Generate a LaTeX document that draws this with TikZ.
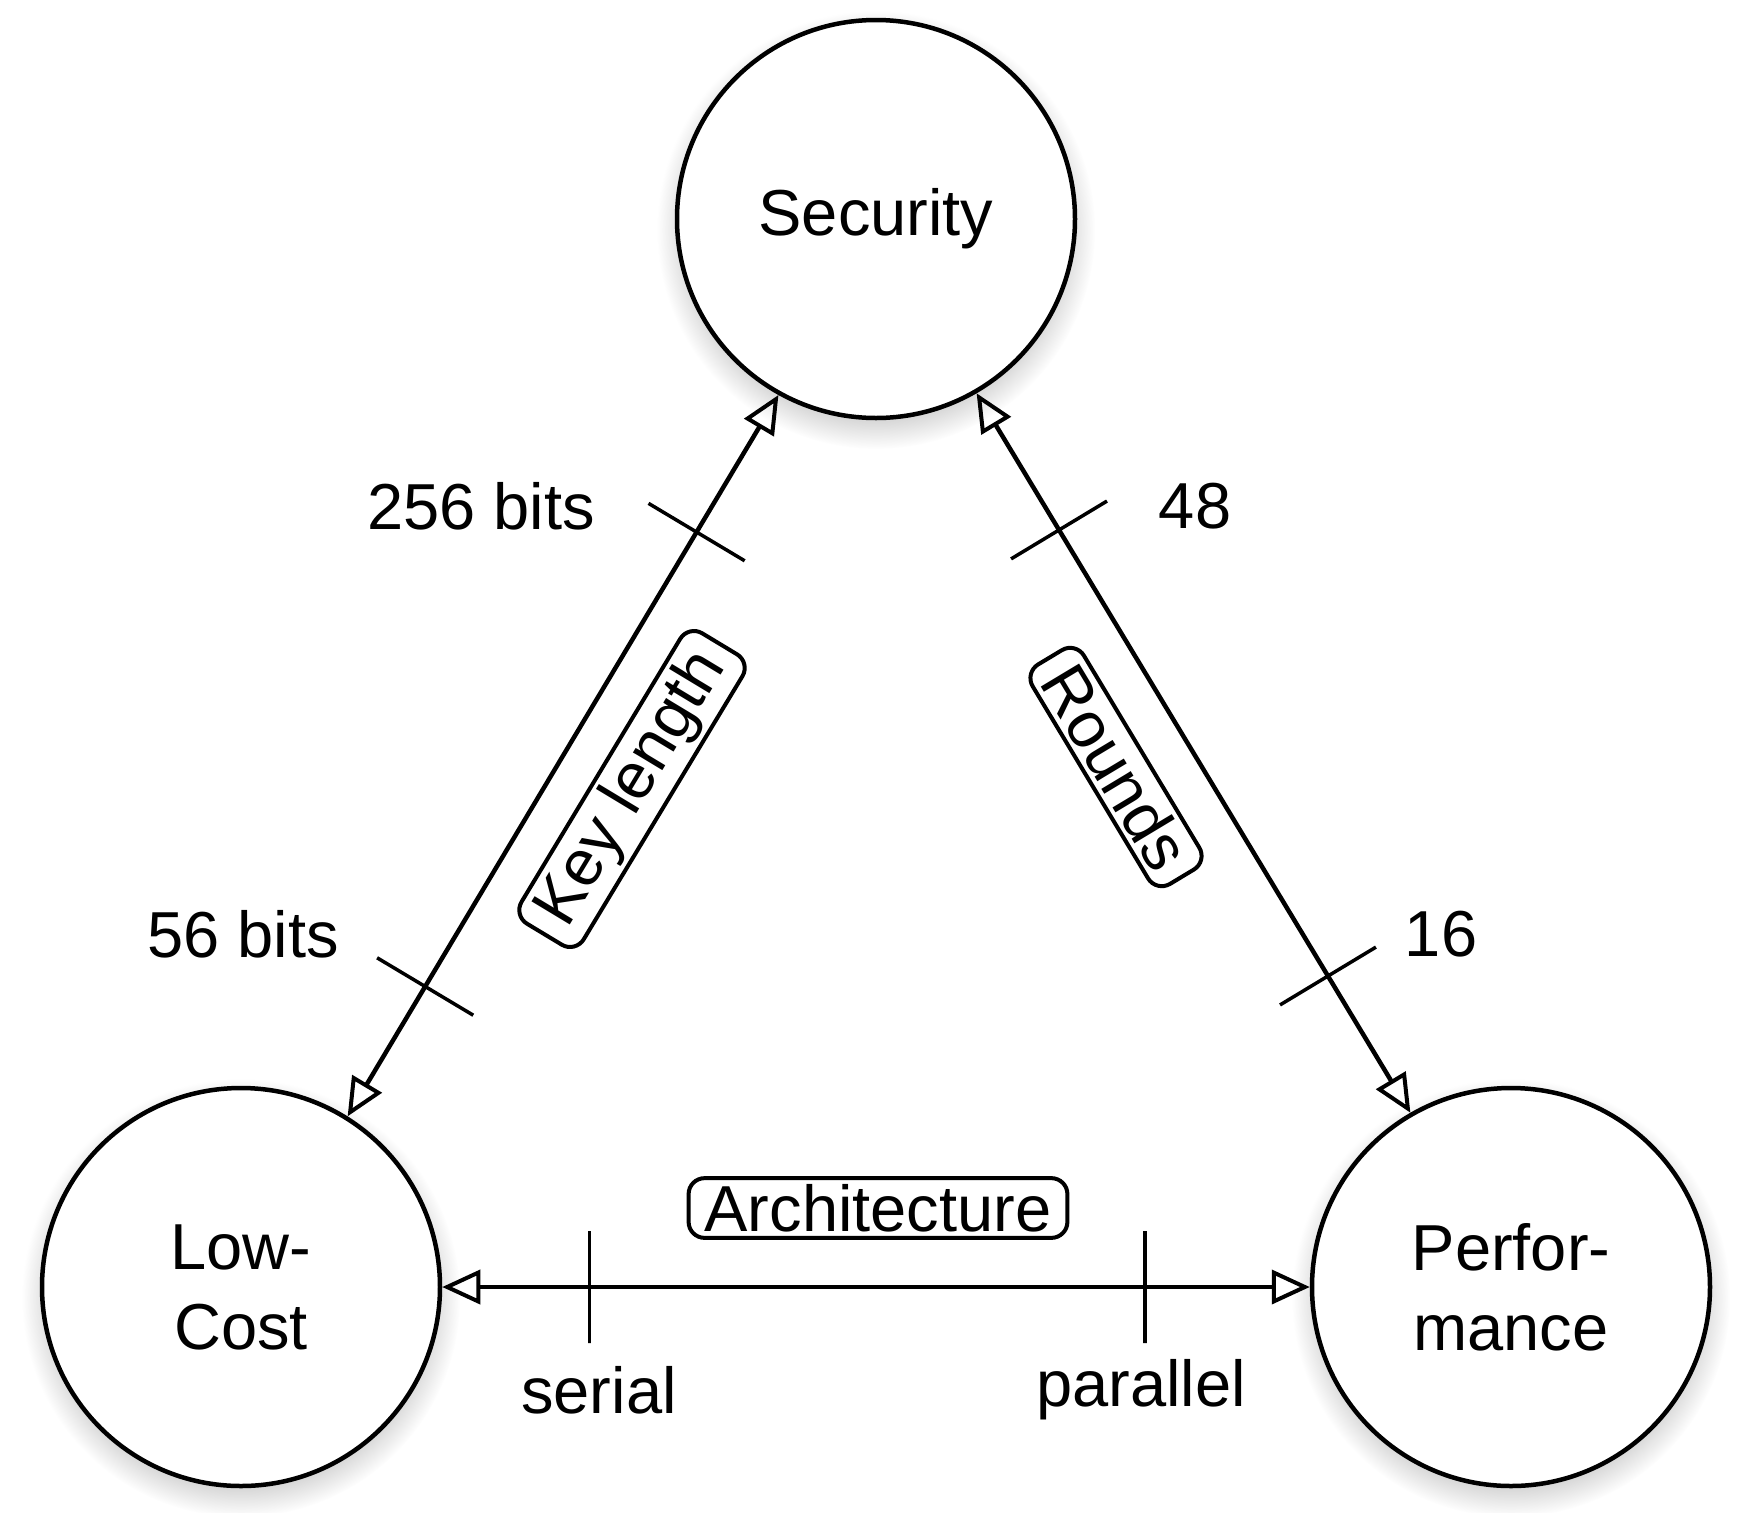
\documentclass[tikz,border=0pt]{standalone}
\usepackage{fontspec}
\setmainfont{Liberation Sans}
\usetikzlibrary{arrows.meta,shadows,calc}
\begin{document}
\begin{tikzpicture}[x=1pt,y=-1pt,
  every node/.style={font=\fontsize{65}{80}\selectfont},
  goal/.style={circle, draw, line width=4.5pt, fill=white, minimum size=398pt, inner sep=0pt, align=center,
    circular drop shadow={shadow xshift=0pt, shadow yshift=-10pt, opacity=0.35}},
  link/.style={line width=4.5pt, {Triangle[open,length=38pt,width=34pt,line width=4pt]}-{Triangle[open,length=38pt,width=34pt,line width=4pt]}},
  tick/.style={draw, line width=3.5pt, sloped, rectangle, minimum width=0pt, minimum height=112pt, inner sep=0pt},
  tag/.style={draw, line width=4pt, rounded corners=16pt, inner xsep=16pt, inner ysep=6pt},
  lbl/.style={}]
\useasboundingbox (0,0) rectangle (1746,1513);
\node[goal] (sec) at (876,219) {Security};
\node[goal] (low) at (241,1287) {Low-\\Cost};
\node[goal] (perf) at (1511,1287) {Perfor-\\mance};
\draw[link] (low.58.6) -- node[tick,pos=0.18]{} node[tick,pos=0.81]{} (sec.241);
\draw[link] (sec.300) -- node[tick,pos=0.19]{} node[tick,pos=0.81]{} (perf.120);
\draw[link] (low.0) -- node[tick,pos=0.17]{} node[tick,pos=0.81]{} (perf.180);
\node[lbl] (l256) at (481,506) {256 bits};
\node[lbl] (l56) at (243,934) {56 bits};
\node[lbl] (l48) at (1195,506) {48};
\node[lbl] (l16) at (1441,934) {16};
\node[lbl] (lser) at (599,1390) {serial};
\node[lbl] (lpar) at (1141,1390) {parallel};
\node[tag, rotate=58.9] (key) at (632,789) {Key length};
\node[tag, rotate=-59] (rnd) at (1116,767) {Rounds};
\node[tag] (arch) at (878,1208) {Architecture};
\end{tikzpicture}
\end{document}
